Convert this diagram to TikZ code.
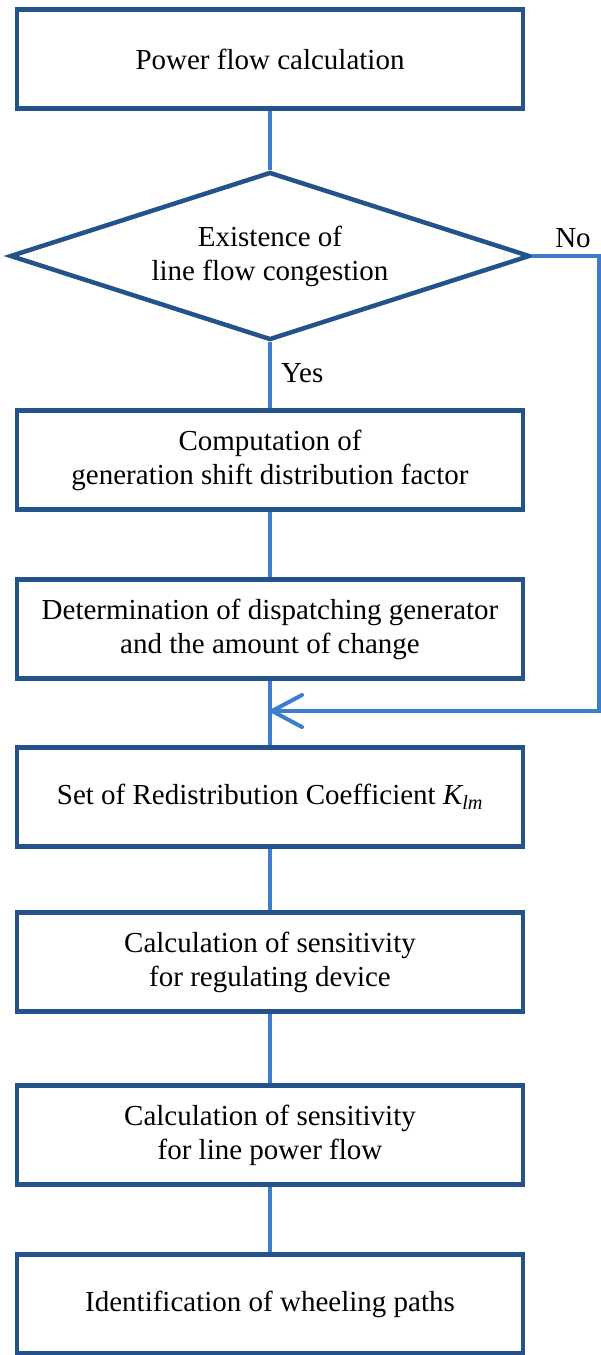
\documentclass[tikz,border=0pt]{standalone}
\usepackage{fontspec}
\setmainfont{Liberation Serif}
\usetikzlibrary{arrows.meta,shapes.geometric}
\definecolor{boxblue}{RGB}{36,82,138}
\definecolor{linkblue}{RGB}{60,125,208}
\begin{document}
\begin{tikzpicture}[x=1pt,y=-1pt,
  stepbox/.style={draw=boxblue, line width=4.5pt, fill=white, minimum width=506pt, minimum height=99pt, inner sep=0pt, align=center, font=\fontsize{29}{34}\selectfont},
  decision/.style={diamond, draw=boxblue, line width=4.5pt, fill=white, minimum width=520pt, minimum height=168pt, aspect=3.1, inner sep=0pt, align=center, font=\fontsize{29}{34}\selectfont},
  link/.style={draw=linkblue, line width=4pt},
  lbl/.style={font=\fontsize{29}{34}\selectfont, inner sep=0pt}]
\useasboundingbox (0,0) rectangle (601,1355);
\node[stepbox] (b1) at (270,59) {Power flow calculation};
\node[decision] (d) at (270,256) {Existence of\\line flow congestion};
\node[stepbox] (b2) at (270,460) {Computation of\\generation shift distribution factor};
\node[stepbox] (b3) at (270,629) {Determination of dispatching generator\\and the amount of change};
\node[stepbox] (b4) at (270,797) {Set of Redistribution Coefficient {\itshape K}\textsubscript{\itshape lm}};
\node[stepbox] (b5) at (270,962) {Calculation of sensitivity\\for regulating device};
\node[stepbox] (b6) at (270,1135) {Calculation of sensitivity\\for line power flow};
\node[stepbox] (b7) at (270,1304) {Identification of wheeling paths};
\coordinate (noR) at (599,256);
\coordinate (join) at (270,711);
\node[lbl, anchor=west] (yes) at (281,373) {Yes};
\node[lbl] (no) at (573,238) {No};
\draw[link] (b1.south) -- (d.north);
\draw[link] (d.south) -- (b2.north);
\draw[link] (b2.south) -- (b3.north);
\draw[link] (b3.south) -- (b4.north);
\draw[link] (b4.south) -- (b5.north);
\draw[link] (b5.south) -- (b6.north);
\draw[link] (b6.south) -- (b7.north);
\draw[link, -{Straight Barb[length=30pt,width=32pt,line width=4pt,round]}] (d.east) -- (noR) |- (join);
\end{tikzpicture}
\end{document}
